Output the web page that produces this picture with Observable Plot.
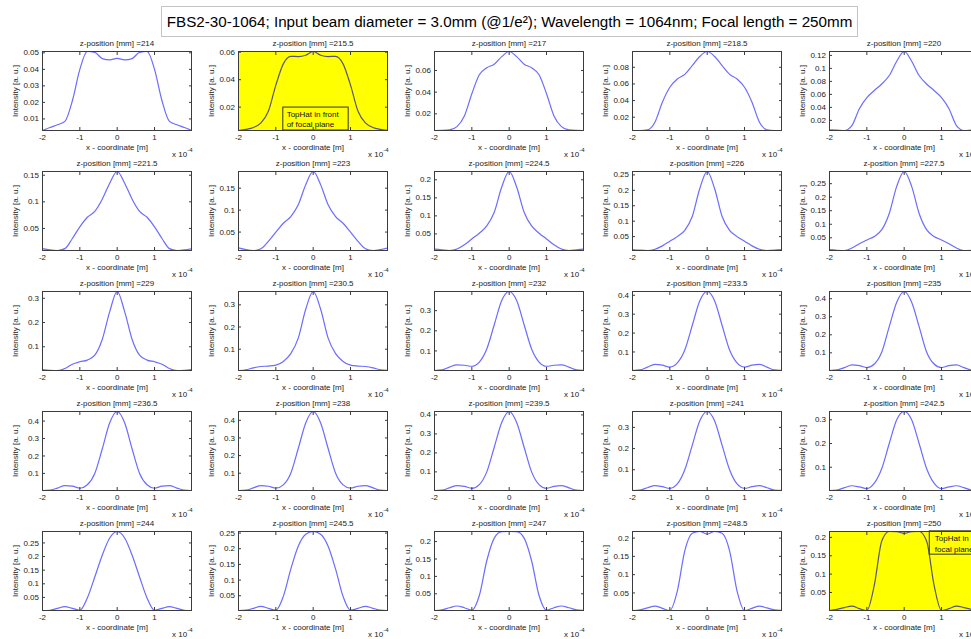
<!DOCTYPE html>
<html>
<head>
<meta charset="utf-8">
<script src="https://cdn.jsdelivr.net/npm/d3@7"></script>
<script src="https://cdn.jsdelivr.net/npm/@observablehq/plot@0.6"></script>
<style>
html, body { margin: 0; padding: 0; background: #fff; overflow: hidden; }
#chart { position: relative; width: 971px; height: 639px; background: #fff; overflow: hidden;
  font-family: "Liberation Sans", Arial, Helvetica, sans-serif; }
#title { position: absolute; left: 161px; top: 6px; width: 695px; height: 29px; border: 1px solid #c4c4c4;
  font-size: 15.2px; line-height: 29px; text-align: center; color: #000; white-space: nowrap; }
.panel { position: absolute; }
</style>
</head>
<body>
<div id="chart">
  <div id="title">FBS2-30-1064; Input beam diameter = 3.0mm (@1/e²); Wavelength = 1064nm; Focal length = 250mm</div>
</div>
<script>
// ---------- data ----------
const zLabels = ["214", "215.5", "217", "218.5", "220",
                 "221.5", "223", "224.5", "226", "227.5",
                 "229", "230.5", "232", "233.5", "235",
                 "236.5", "238", "239.5", "241", "242.5",
                 "244", "245.5", "247", "248.5", "250"];

// x - coordinate, in units of 1e-4 m
const xCoord = [-2, -1.8, -1.6, -1.4, -1.2, -1, -0.8, -0.6, -0.4, -0.2, 0, 0.2, 0.4, 0.6, 0.8, 1, 1.2, 1.4, 1.6, 1.8, 2];
const xTicks = [-2, -1, 0, 1];

const i214   = [0.0030,0.0048,0.0065,0.0085,0.0210,0.0400,0.0508,0.0503,0.0465,0.0457,0.0466,0.0457,0.0465,0.0503,0.0508,0.0400,0.0210,0.0085,0.0065,0.0048,0.0030];
const i215_5 = [0.0030,0.0038,0.0052,0.0085,0.0170,0.0360,0.0515,0.0570,0.0568,0.0578,0.0605,0.0578,0.0568,0.0570,0.0515,0.0360,0.0170,0.0085,0.0052,0.0038,0.0030];
const i217   = [0.0046,0.0047,0.0052,0.0082,0.0180,0.0385,0.0560,0.0625,0.0658,0.0728,0.0775,0.0728,0.0658,0.0625,0.0560,0.0385,0.0180,0.0082,0.0052,0.0047,0.0046];
const i218_5 = [0.0040,0.0040,0.0048,0.0140,0.0380,0.0560,0.0660,0.0715,0.0820,0.0930,0.0990,0.0930,0.0820,0.0715,0.0660,0.0560,0.0380,0.0140,0.0048,0.0040,0.0040];
const i220   = [0.0055,0.0050,0.0044,0.0120,0.0380,0.0550,0.0660,0.0760,0.0890,0.1110,0.1260,0.1110,0.0890,0.0760,0.0660,0.0550,0.0380,0.0120,0.0044,0.0050,0.0055];
const i221_5 = [0.0120,0.0095,0.0085,0.0120,0.0310,0.0530,0.0710,0.0820,0.1050,0.1350,0.1570,0.1350,0.1050,0.0820,0.0710,0.0530,0.0310,0.0120,0.0085,0.0095,0.0120];
const i223   = [0.0140,0.0100,0.0080,0.0120,0.0290,0.0500,0.0700,0.0850,0.1120,0.1580,0.1880,0.1580,0.1120,0.0850,0.0700,0.0500,0.0290,0.0120,0.0080,0.0100,0.0140];
const i224_5 = [0.0080,0.0060,0.0040,0.0080,0.0200,0.0360,0.0520,0.0720,0.1100,0.1800,0.2230,0.1800,0.1100,0.0720,0.0520,0.0360,0.0200,0.0080,0.0040,0.0060,0.0080];
const i226   = [0.0080,0.0060,0.0050,0.0090,0.0200,0.0350,0.0500,0.0700,0.1150,0.2050,0.2610,0.2050,0.1150,0.0700,0.0500,0.0350,0.0200,0.0090,0.0050,0.0060,0.0080];
const i227_5 = [0.0060,0.0040,0.0030,0.0120,0.0280,0.0420,0.0550,0.0800,0.1400,0.2400,0.2950,0.2400,0.1400,0.0800,0.0550,0.0420,0.0280,0.0120,0.0030,0.0040,0.0060];
const i229   = [0.0060,0.0030,0.0020,0.0100,0.0280,0.0380,0.0450,0.0650,0.1300,0.2450,0.3280,0.2450,0.1300,0.0650,0.0450,0.0380,0.0280,0.0100,0.0020,0.0030,0.0060];
const i230_5 = [0.0040,0.0070,0.0160,0.0220,0.0240,0.0280,0.0450,0.0800,0.1500,0.2800,0.3600,0.2800,0.1500,0.0800,0.0450,0.0280,0.0240,0.0220,0.0160,0.0070,0.0040];
const i232   = [0.0030,0.0060,0.0200,0.0310,0.0290,0.0240,0.0450,0.1100,0.2300,0.3500,0.3950,0.3500,0.2300,0.1100,0.0450,0.0240,0.0290,0.0310,0.0200,0.0060,0.0030];
const i233_5 = [0.0020,0.0050,0.0200,0.0340,0.0300,0.0200,0.0420,0.1100,0.2400,0.3700,0.4200,0.3700,0.2400,0.1100,0.0420,0.0200,0.0300,0.0340,0.0200,0.0050,0.0020];
const i235   = [0.0020,0.0050,0.0180,0.0330,0.0290,0.0180,0.0380,0.1050,0.2450,0.3800,0.4400,0.3800,0.2450,0.1050,0.0380,0.0180,0.0290,0.0330,0.0180,0.0050,0.0020];
const i236_5 = [0.0020,0.0040,0.0160,0.0300,0.0270,0.0150,0.0350,0.1000,0.2400,0.3900,0.4550,0.3900,0.2400,0.1000,0.0350,0.0150,0.0270,0.0300,0.0160,0.0040,0.0020];
const i238   = [0.0020,0.0040,0.0170,0.0300,0.0260,0.0150,0.0340,0.1000,0.2400,0.3850,0.4500,0.3850,0.2400,0.1000,0.0340,0.0150,0.0260,0.0300,0.0170,0.0040,0.0020];
const i239_5 = [0.0020,0.0040,0.0160,0.0280,0.0240,0.0130,0.0330,0.1000,0.2300,0.3600,0.4180,0.3600,0.2300,0.1000,0.0330,0.0130,0.0240,0.0280,0.0160,0.0040,0.0020];
const i241   = [0.0020,0.0040,0.0150,0.0250,0.0200,0.0120,0.0330,0.1000,0.2150,0.3300,0.3750,0.3300,0.2150,0.1000,0.0330,0.0120,0.0200,0.0250,0.0150,0.0040,0.0020];
const i242_5 = [0.0020,0.0040,0.0140,0.0220,0.0170,0.0100,0.0330,0.0950,0.2000,0.3000,0.3350,0.3000,0.2000,0.0950,0.0330,0.0100,0.0170,0.0220,0.0140,0.0040,0.0020];
const i244   = [0.0020,0.0030,0.0100,0.0160,0.0100,0.0030,0.0480,0.1250,0.2050,0.2680,0.2920,0.2680,0.2050,0.1250,0.0480,0.0030,0.0100,0.0160,0.0100,0.0030,0.0020];
const i245_5 = [0.0030,0.0040,0.0100,0.0160,0.0100,0.0040,0.0480,0.1350,0.2080,0.2460,0.2550,0.2460,0.2080,0.1350,0.0480,0.0040,0.0100,0.0160,0.0100,0.0040,0.0030];
const i247   = [0.0020,0.0040,0.0100,0.0150,0.0100,0.0030,0.0450,0.1450,0.2100,0.2285,0.2290,0.2285,0.2100,0.1450,0.0450,0.0030,0.0100,0.0150,0.0100,0.0040,0.0020];
const i248_5 = [0.0020,0.0040,0.0090,0.0140,0.0080,0.0020,0.0550,0.1650,0.2130,0.2180,0.2110,0.2180,0.2130,0.1650,0.0550,0.0020,0.0080,0.0140,0.0090,0.0040,0.0020];
const i250   = [0.0010,0.0040,0.0090,0.0130,0.0060,0.0010,0.0700,0.1900,0.2160,0.2155,0.2110,0.2155,0.2160,0.1900,0.0700,0.0010,0.0060,0.0130,0.0090,0.0040,0.0010];

// y tick spacing per panel (as shown by the reference axes)
const yTickStep = [0.01, 0.02, 0.02, 0.02, 0.02,
                   0.05, 0.05, 0.05, 0.05, 0.05,
                   0.1, 0.1, 0.1, 0.1, 0.1,
                   0.1, 0.1, 0.1, 0.1, 0.1,
                   0.05, 0.05, 0.05, 0.05, 0.05];

// highlighted panels with their text-box annotations
const highlightPanels = ["215.5", "250"];
const noteText  = ["TopHat in front\nof focal plane", "TopHat in\nfocal plane"];
const noteBoxX  = [[-0.8, 0.95], [0.685, 2.7]];
const noteBoxY  = [[0.003, 0.0197], [0.153, 0.2165]];
const noteTextXY = [[-0.71, 0.0117], [0.82, 0.1845]];

const xLabel = "x - coordinate [m]";
const yLabel = "Intensity [a. u.]";

const profiles = [i214, i215_5, i217, i218_5, i220,
                  i221_5, i223, i224_5, i226, i227_5,
                  i229, i230_5, i232, i233_5, i235,
                  i236_5, i238, i239_5, i241, i242_5,
                  i244, i245_5, i247, i248_5, i250];

// ---------- layout ----------
const colLeft = [42, 238, 434, 632, 829];
const rowTop = [51, 171, 291, 411, 531];
const FW = 149, FH = 79, ML = 38, MR = 9, MT = 12, MB = 29;
const fmt = d => String(+d.toFixed(4));
const chart = document.getElementById("chart");

profiles.forEach((vals, i) => {
  const r = Math.floor(i / 5), c = i % 5;
  const z = zLabels[i];
  const data = xCoord.map((x, j) => ({x, y: vals[j]}));
  const [ymin, ymax] = d3.extent(vals);
  const step = yTickStep[i];
  const yTicks = d3.range(1, Math.floor(ymax / step + 1e-9) + 1)
    .map(k => +(k * step).toFixed(4)).filter(t => t >= ymin);
  const hi = highlightPanels.indexOf(z);
  const lineColor = hi >= 0 ? "#56567c" : "#6c6cff";
  const frameColor = "#3c3c3c";

  const marks = [];
  if (hi >= 0) marks.push(Plot.frame({fill: "#ffff00", stroke: "none"}));
  marks.push(Plot.line(data, {x: "x", y: "y", stroke: lineColor, strokeWidth: 1.2, curve: "monotone-x", clip: true}));
  if (hi >= 0) {
    marks.push(Plot.rect([0], {x1: noteBoxX[hi][0], x2: noteBoxX[hi][1], y1: noteBoxY[hi][0], y2: noteBoxY[hi][1],
      fill: "#ffff00", stroke: "#333", strokeWidth: 1}));
    marks.push(Plot.text([noteText[hi]], {x: noteTextXY[hi][0], y: noteTextXY[hi][1], textAnchor: "start",
      lineAnchor: "middle", lineHeight: 1.3, fontSize: 8, fill: "#111"}));
  }
  marks.push(
    Plot.frame({stroke: frameColor, strokeWidth: 1}),
    // inward ticks on all four sides
    Plot.axisX({anchor: "bottom", ticks: xTicks, tickSize: 3, dy: -3, fill: "none", stroke: frameColor, label: null}),
    Plot.axisX({anchor: "top", ticks: xTicks, tickSize: 3, dy: 3, fill: "none", stroke: frameColor, label: null}),
    Plot.axisY({anchor: "left", ticks: yTicks, tickSize: 3, dx: 3, fill: "none", stroke: frameColor, label: null}),
    Plot.axisY({anchor: "right", ticks: yTicks, tickSize: 3, dx: -3, fill: "none", stroke: frameColor, label: null}),
    // tick labels
    Plot.axisX({anchor: "bottom", ticks: xTicks, tickSize: 0, tickPadding: 4, tickFormat: d => String(d), label: null, fill: "#222"}),
    Plot.axisY({anchor: "left", ticks: yTicks, tickSize: 0, tickPadding: 3.5, tickFormat: fmt, label: null, fill: "#222"}),
    // titles and labels
    Plot.text([`z-position [mm] =${z}`], {frameAnchor: "top", lineAnchor: "middle", dy: -8.5, fill: "#222"}),
    Plot.text([xLabel], {frameAnchor: "bottom", lineAnchor: "middle", dy: 17, fill: "#222"}),
    Plot.text([yLabel], {frameAnchor: "left", textAnchor: "middle", lineAnchor: "middle", rotate: -90, dx: -27.5, fill: "#222"}),
    Plot.text(["x 10"], {frameAnchor: "bottom-right", textAnchor: "end", lineAnchor: "middle", dx: -4.3, dy: 23.5, fill: "#222"}),
    Plot.text(["-4"], {frameAnchor: "bottom-right", textAnchor: "start", lineAnchor: "middle", dx: -4.3, dy: 19.5, fontSize: 6, fill: "#222"})
  );

  const svg = Plot.plot({
    width: ML + FW + MR, height: MT + FH + MB,
    marginLeft: ML, marginRight: MR, marginTop: MT, marginBottom: MB,
    style: {background: "transparent", overflow: "visible", fontFamily: "'Liberation Sans', Arial, Helvetica, sans-serif", fontSize: "8px", color: "#222"},
    x: {domain: [-2, 1.99]},
    y: {domain: [ymin, ymax]},
    marks
  });
  svg.classList.add("panel");
  svg.style.left = (colLeft[c] - ML) + "px";
  svg.style.top = (rowTop[r] - MT) + "px";
  svg.style.maxWidth = "none";
  chart.appendChild(svg);
});
</script>
</body>
</html>
